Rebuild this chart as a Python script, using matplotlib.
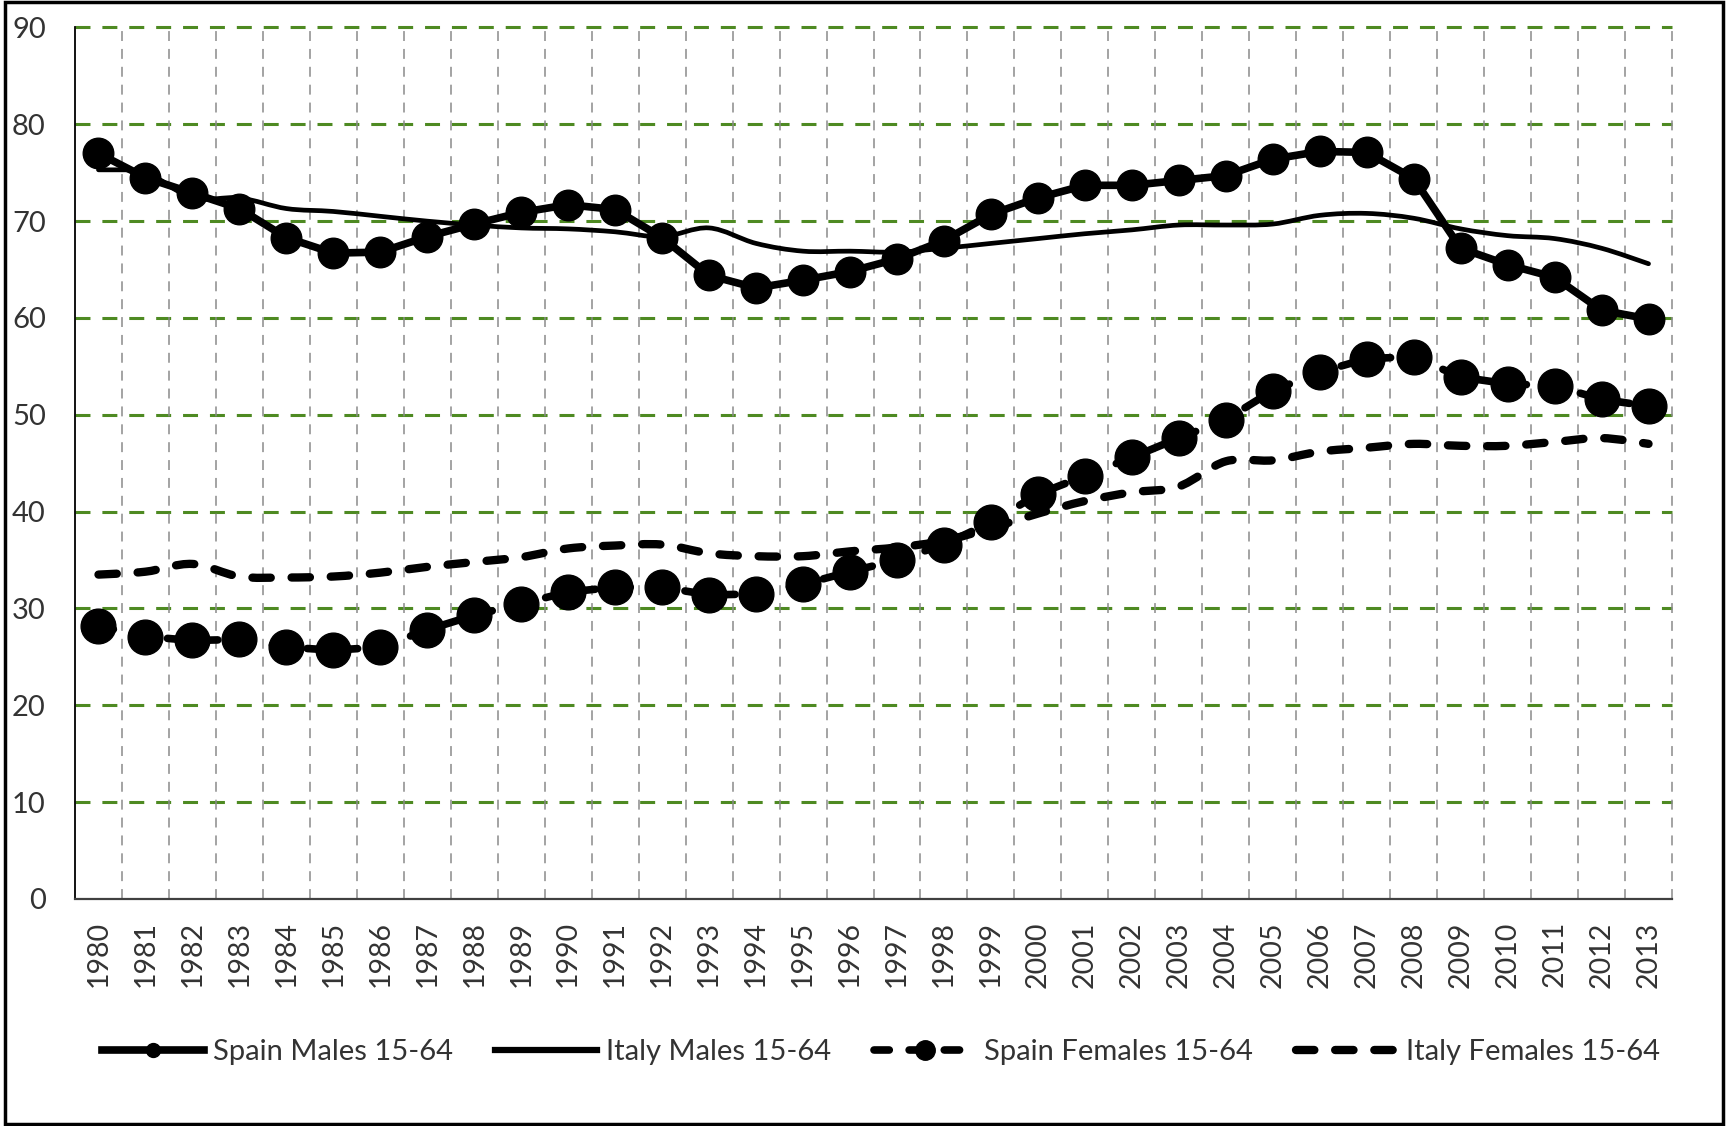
import numpy as np
import matplotlib
matplotlib.use("Agg")
import matplotlib.pyplot as plt
from matplotlib.path import Path
from matplotlib.patches import PathPatch, Rectangle
from matplotlib.lines import Line2D

years = [str(y) for y in range(1980, 2014)]

spain_males = [77.0, 74.5, 72.9, 71.3, 68.3, 66.7, 66.8, 68.4, 69.7, 70.9, 71.7,
               71.2, 68.3, 64.4, 63.1, 63.9, 64.8, 66.1, 68.0, 70.7, 72.4, 73.7,
               73.7, 74.2, 74.7, 76.4, 77.2, 77.1, 74.4, 67.2, 65.5, 64.2, 60.8, 59.9]
italy_males = [75.3, 75.0, 72.4, 72.4, 71.3, 71.0, 70.5, 70.0, 69.6, 69.3, 69.2,
               68.9, 68.4, 69.3, 67.7, 66.9, 66.9, 66.8, 67.2, 67.7, 68.2, 68.7,
               69.1, 69.6, 69.6, 69.7, 70.6, 70.8, 70.3, 69.2, 68.5, 68.2, 67.2, 65.6]
spain_females = [28.2, 27.1, 26.7, 26.8, 26.0, 25.7, 26.0, 27.8, 29.3, 30.5, 31.7,
                 32.2, 32.2, 31.4, 31.5, 32.5, 33.8, 35.0, 36.6, 38.9, 41.8, 43.7,
                 45.6, 47.6, 49.5, 52.5, 54.4, 55.8, 56.0, 53.9, 53.2, 53.0, 51.6, 50.9]
italy_females = [33.5, 33.8, 34.6, 33.3, 33.2, 33.3, 33.7, 34.3, 34.8, 35.3, 36.2,
                 36.5, 36.6, 35.7, 35.4, 35.4, 35.9, 36.3, 37.0, 38.3, 39.8, 41.1,
                 42.0, 42.6, 45.2, 45.3, 46.2, 46.6, 47.0, 46.8, 46.8, 47.2, 47.6, 47.0]
labels = ["Spain Males 15-64", "Italy Males 15-64",
          "Spain Females 15-64", "Italy Females 15-64"]
yticks = list(range(0, 91, 10))

FONT = ["Lato", "DejaVu Sans"]
plt.rcParams['font.family'] = FONT
TXT = '#333333'

fig = plt.figure(figsize=(17.28, 11.26), dpi=100)
ax = fig.add_axes([0.0434, 0.2016, 0.9242, 0.7740])
x = np.arange(len(years))
ax.set_xlim(-0.5, len(years) - 0.5)
ax.set_ylim(0, 90)

# grid
for yv in yticks[1:]:
    ax.axhline(yv, color='#4e8a22', lw=2.2, ls=(0, (4.9, 3.9)), clip_on=False, zorder=1)
for xv in np.arange(0.5, len(years), 1.0):
    ax.axvline(xv, color='#8a8a8a', lw=1.1, ls=(0, (6.5, 5.2)), clip_on=False, zorder=1)

def smooth_path(xs, ys):
    pts = np.column_stack([xs, ys]).astype(float)
    n = len(pts)
    verts = [pts[0]]
    codes = [Path.MOVETO]
    for i in range(n - 1):
        p0 = pts[i - 1] if i > 0 else pts[i]
        p1 = pts[i]
        p2 = pts[i + 1]
        p3 = pts[i + 2] if i + 2 < n else pts[i + 1]
        c1 = p1 + (p2 - p0) / 6.0
        c2 = p2 - (p3 - p1) / 6.0
        verts += [c1, c2, p2]
        codes += [Path.CURVE4] * 3
    return Path(verts, codes)

# Spain males
ax.plot(x, spain_males, color='black', lw=5.5, marker='o', ms=22,
        solid_joinstyle='round', zorder=4)
# Italy males (smoothed)
ax.add_patch(PathPatch(smooth_path(x, italy_males), fill=False, ec='black',
                       lw=3.4, joinstyle='round', capstyle='round', zorder=3))
# Spain females
ax.plot(x, spain_females, color='black', lw=5.5, ls=(0, (2.0, 2.6)),
        dash_capstyle='round', marker='o', ms=25, zorder=4)
# Italy females (smoothed, dashed)
ax.add_patch(PathPatch(smooth_path(x, italy_females), fill=False, ec='black',
                       lw=6.0, ls=(0, (2.2, 2.5)), capstyle='round',
                       joinstyle='round', zorder=3))

for side in ['top', 'right']:
    ax.spines[side].set_visible(False)
ax.spines['left'].set_color('black')
ax.spines['left'].set_linewidth(1.3)
ax.spines['bottom'].set_color('#404040')
ax.spines['bottom'].set_linewidth(1.6)
ax.spines['left'].set_zorder(2)

ax.set_yticks(yticks)
ax.set_yticklabels([str(v) for v in yticks])
ax.set_xticks(x)
ax.set_xticklabels(years, rotation=90)
ax.tick_params(axis='y', length=0, pad=21, labelsize=21, labelcolor=TXT)
ax.tick_params(axis='x', length=0, pad=16, labelsize=20.5, labelcolor=TXT)

handles = [
    Line2D([], [], color='black', lw=5.5, marker='o', ms=10),
    Line2D([], [], color='black', lw=4.5),
    Line2D([], [], color='black', lw=5.5, ls=(0, (2.0, 2.6)), dash_capstyle='round',
           marker='o', ms=14),
    Line2D([], [], color='black', lw=6.0, ls=(0, (2.2, 2.5)), dash_capstyle='round'),
]
fig.legend(handles, labels, loc='center', bbox_to_anchor=(0.51, 0.0657), ncol=4,
           frameon=False, fontsize=21, handlelength=3.5, handletextpad=0.3,
           columnspacing=1.45, labelcolor=TXT)

fig.patches.append(Rectangle((0.003, 0.002), 0.994, 0.996, transform=fig.transFigure,
                             fill=False, lw=2.5, ec='black'))

fig.savefig('out.png', dpi=100, facecolor='white')
